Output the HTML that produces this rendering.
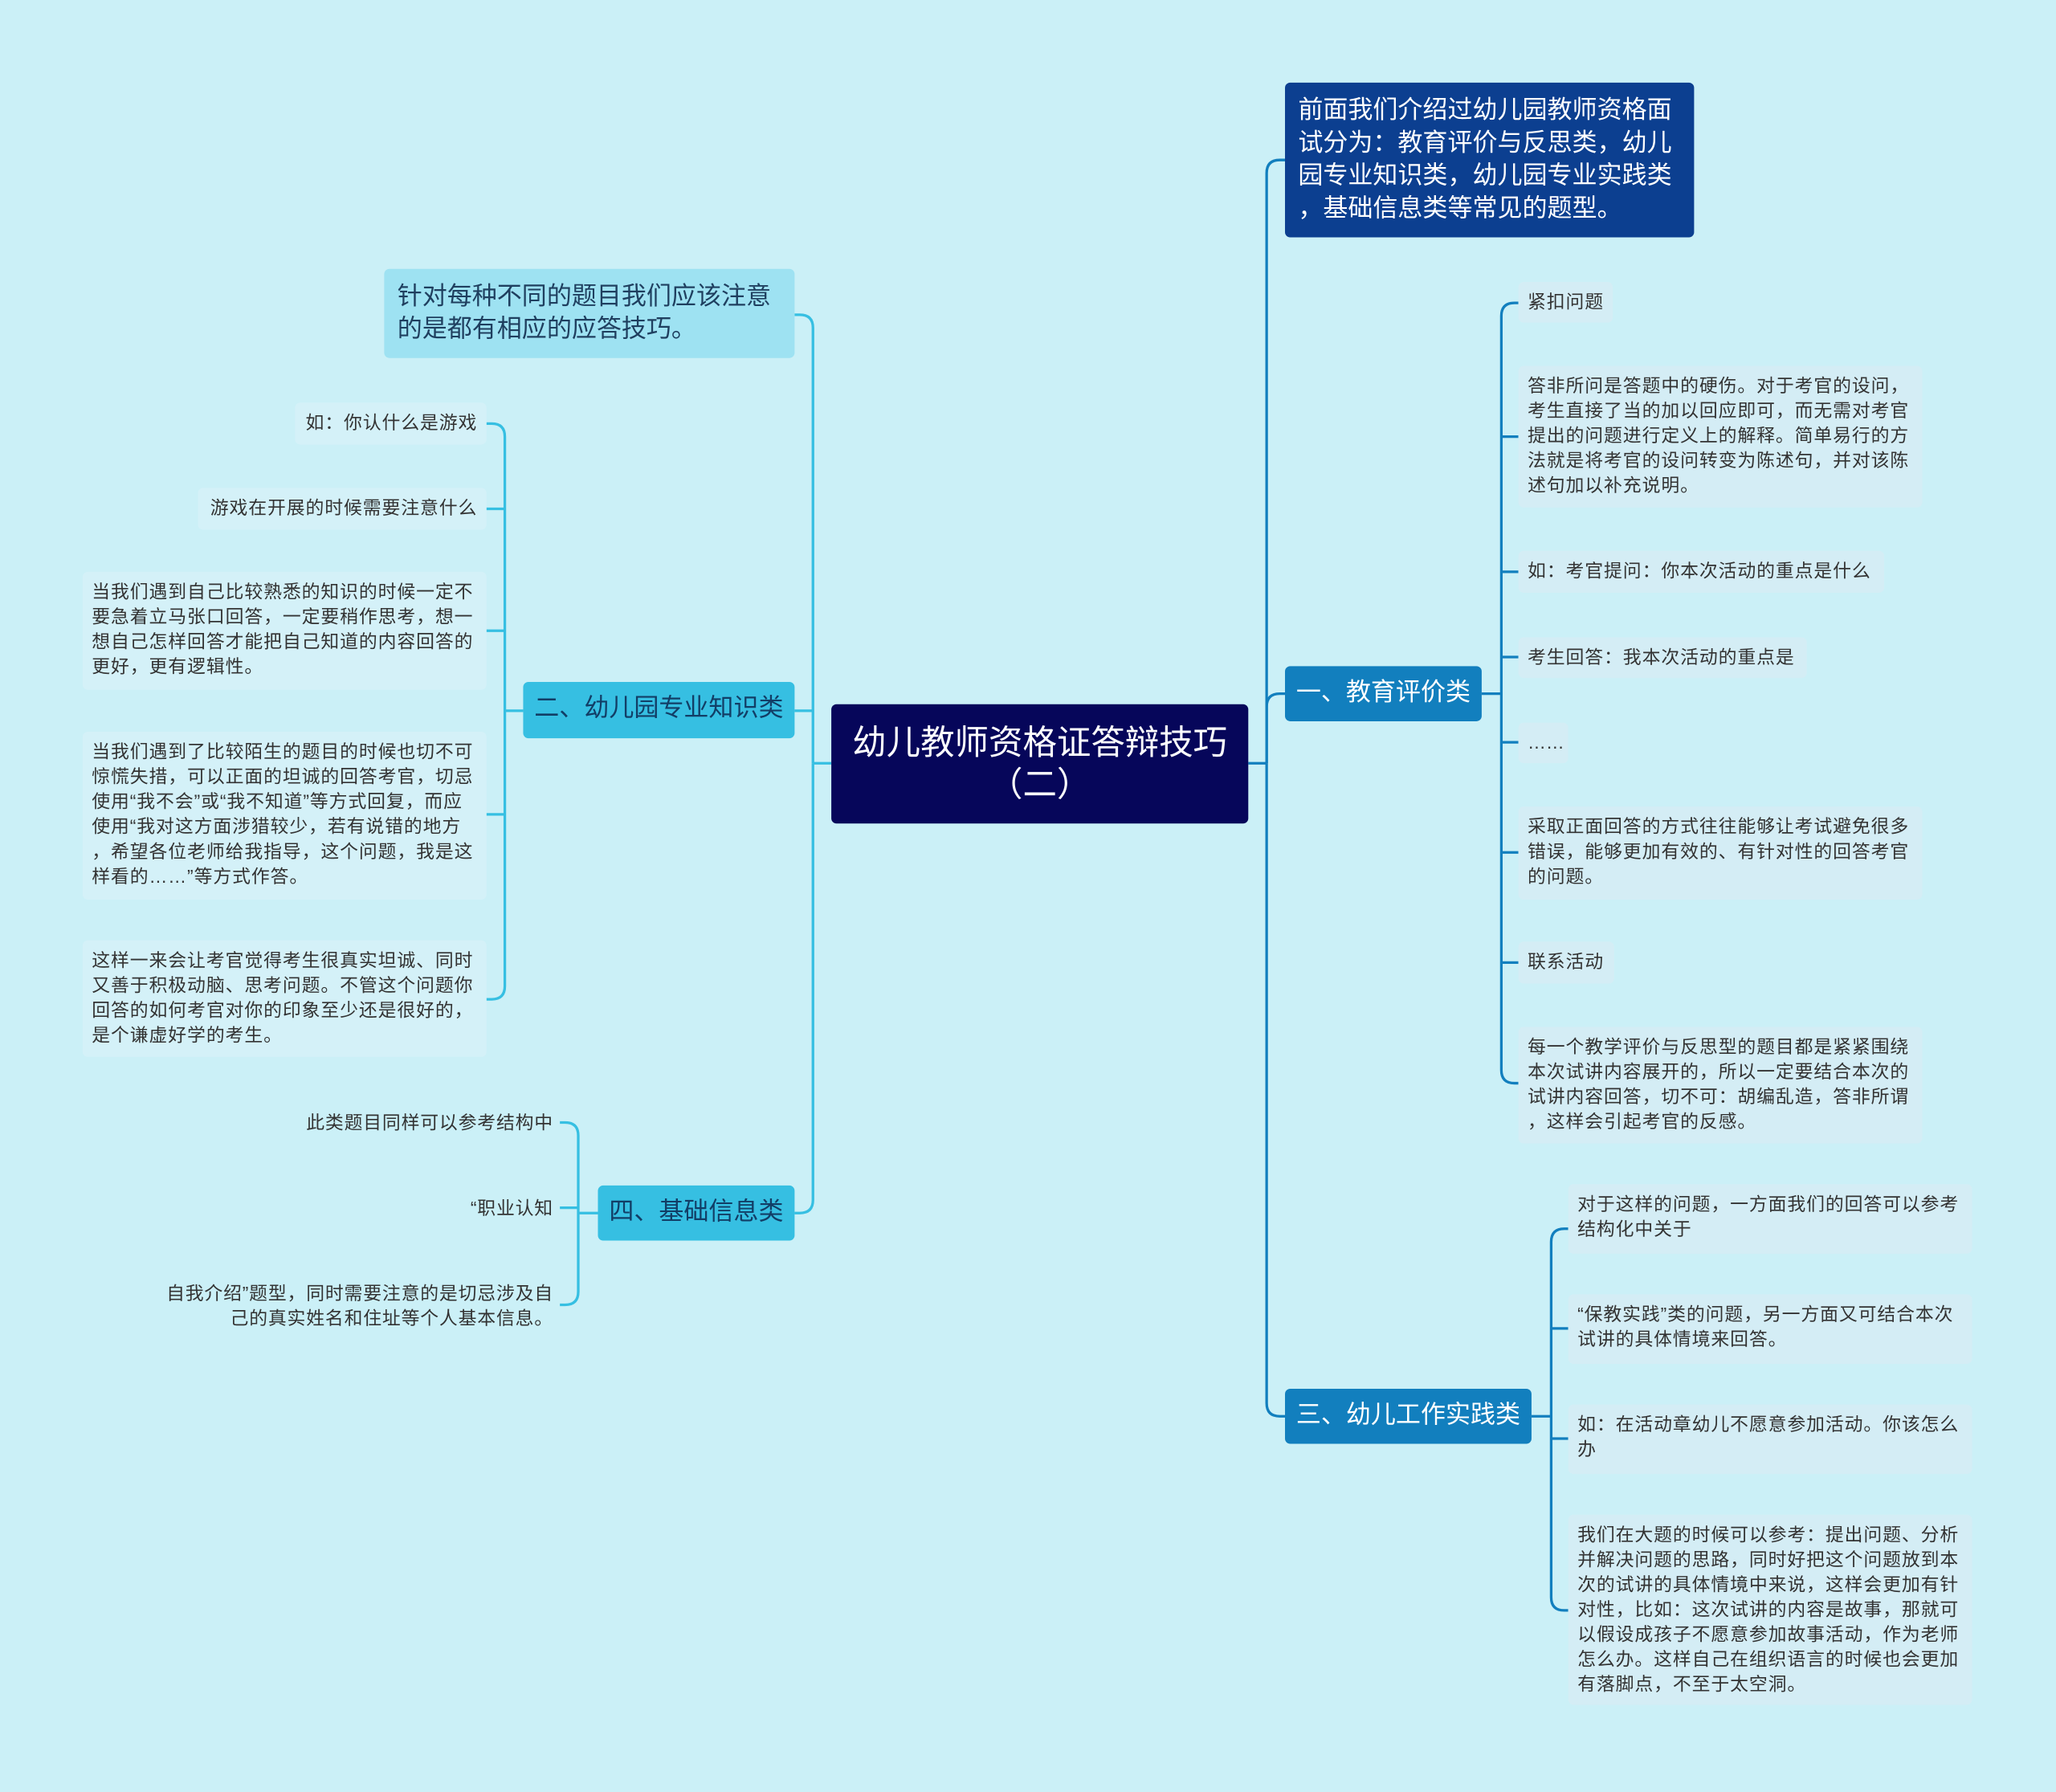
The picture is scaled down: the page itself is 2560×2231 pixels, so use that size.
<!DOCTYPE html>
<html><head><meta charset="utf-8"><style>
html,body{margin:0;padding:0;background:#cbf0f7;}
body{width:2560px;height:2231px;overflow:hidden;}
#w{position:absolute;left:0;top:0;width:1568px;height:1366px;transform:scale(1.63265);transform-origin:0 0;font-family:"Liberation Sans","Noto Sans CJK SC",sans-serif;line-break:anywhere;}
.n{position:absolute;box-sizing:border-box;border-radius:4px;}
.leaf{background:#d4edf5;color:#333;font-size:14px;line-height:19px;padding:6px 7px;letter-spacing:0.55px;}
.nw{white-space:nowrap;overflow:hidden;}
.lft{background:#d4f1f8;text-align:right;}
.plain{position:absolute;color:#333;font-size:14px;line-height:19px;text-align:right;letter-spacing:0.5px;line-break:anywhere;}
.b1{background:#127fbe;color:#fff;font-size:19px;line-height:42px;text-align:center;}
.b2{background:#36bfe2;color:#123e66;font-size:19px;line-height:42px;text-align:center;}
svg{position:absolute;left:0;top:0;}
</style></head><body><div id="w">
<svg width="1568" height="1366" fill="none" stroke-width="2">
<g stroke="#127fbe">
<path d="M952 582 H966"/>
<path d="M966 582 V132 Q966 122 976 122 H980"/>
<path d="M966 582 V539 Q966 529 976 529 H980"/>
<path d="M966 582 V1070 Q966 1080 976 1080 H980"/>
<path d="M1130 529 H1145"/>
<path d="M1145 241 Q1145 231 1155 231 H1158 M1145 241 V816 Q1145 826 1155 826 H1158"/>
<path d="M1145 333 H1158 M1145 436 H1158 M1145 501 H1158 M1145 566 H1158 M1145 650 H1158 M1145 734 H1158"/>
<path d="M1168 1080 H1183"/>
<path d="M1183 947 Q1183 937 1193 937 H1196 M1183 947 V1218 Q1183 1228 1193 1228 H1196"/>
<path d="M1183 1013 H1196 M1183 1097 H1196"/>
</g>
<g stroke="#36bfe2">
<path d="M634 582 H620"/>
<path d="M620 582 V250 Q620 240 610 240 H606"/>
<path d="M620 582 V915 Q620 925 610 925 H606"/>
<path d="M620 542 H606"/>
<path d="M399 542 H385"/>
<path d="M385 333 Q385 323 375 323 H371 M385 333 V752 Q385 762 375 762 H371"/>
<path d="M385 388 H371 M385 481 H371 M385 621 H371"/>
<path d="M456 925 H441"/>
<path d="M441 866 Q441 856 431 856 H427 M441 866 V985 Q441 995 431 995 H427"/>
<path d="M441 921 H427"/>
</g>
</svg>
<div class="n" style="left:634px;top:537px;width:318px;height:91px;background:#06065a;color:#fff;font-size:26px;line-height:32px;text-align:center;padding-top:13px;">幼儿教师资格证答辩技巧<br>（二）</div>
<div class="n" style="left:980px;top:63px;width:312px;height:118px;background:#0c3f90;color:#fff;font-size:19px;line-height:25px;padding:9px 8px 9px 10px;">前面我们介绍过幼儿园教师资格面试分为：教育评价与反思类，幼儿园专业知识类，幼儿园专业实践类，基础信息类等常见的题型。</div>
<div class="n b1" style="left:980px;top:508px;width:150px;height:42px;">一、教育评价类</div>
<div class="n b1" style="left:980px;top:1059px;width:188px;height:42px;">三、幼儿工作实践类</div>
<div class="n b2" style="left:399px;top:520px;width:207px;height:43px;">二、幼儿园专业知识类</div>
<div class="n b2" style="left:456px;top:904px;width:150px;height:42px;">四、基础信息类</div>
<div class="n" style="left:293px;top:205px;width:313px;height:68px;background:#9ee2f2;color:#1f3f5f;font-size:19px;line-height:25px;padding:9px 10px;">针对每种不同的题目我们应该注意的是都有相应的应答技巧。</div>

<div class="n leaf nw" style="left:1158px;top:215px;width:72px;height:31px;">紧扣问题</div>
<div class="n leaf" style="left:1158px;top:279px;width:308px;height:108px;">答非所问是答题中的硬伤。对于考官的设问，考生直接了当的加以回应即可，而无需对考官提出的问题进行定义上的解释。简单易行的方法就是将考官的设问转变为陈述句，并对该陈述句加以补充说明。</div>
<div class="n leaf nw" style="left:1158px;top:420px;width:279px;height:32px;">如：考官提问：你本次活动的重点是什么</div>
<div class="n leaf nw" style="left:1158px;top:486px;width:220px;height:31px;">考生回答：我本次活动的重点是</div>
<div class="n leaf nw" style="left:1158px;top:551px;width:38px;height:31px;letter-spacing:0;">……</div>
<div class="n leaf" style="left:1158px;top:615px;width:308px;height:71px;">采取正面回答的方式往往能够让考试避免很多错误，能够更加有效的、有针对性的回答考官的问题。</div>
<div class="n leaf nw" style="left:1158px;top:718px;width:73px;height:32px;">联系活动</div>
<div class="n leaf" style="left:1158px;top:783px;width:308px;height:89px;">每一个教学评价与反思型的题目都是紧紧围绕本次试讲内容展开的，所以一定要结合本次的试讲内容回答，切不可：胡编乱造，答非所谓，这样会引起考官的反感。</div>
<div class="n leaf" style="left:1196px;top:903px;width:308px;height:53px;">对于这样的问题，一方面我们的回答可以参考结构化中关于</div>
<div class="n leaf" style="left:1196px;top:987px;width:308px;height:53px;">“保教实践”类的问题，另一方面又可结合本次试讲的具体情境来回答。</div>
<div class="n leaf" style="left:1196px;top:1071px;width:308px;height:53px;">如：在活动章幼儿不愿意参加活动。你该怎么办</div>
<div class="n leaf" style="left:1196px;top:1155px;width:308px;height:145px;">我们在大题的时候可以参考：提出问题、分析并解决问题的思路，同时好把这个问题放到本次的试讲的具体情境中来说，这样会更加有针对性，比如：这次试讲的内容是故事，那就可以假设成孩子不愿意参加故事活动，作为老师怎么办。这样自己在组织语言的时候也会更加有落脚点，不至于太空洞。</div>

<div class="n leaf lft nw" style="left:225px;top:307px;width:146px;height:32px;">如：你认什么是游戏</div>
<div class="n leaf lft nw" style="left:151px;top:372px;width:220px;height:32px;">游戏在开展的时候需要注意什么</div>
<div class="n leaf lft" style="left:63px;top:436px;width:308px;height:90px;text-align:left;">当我们遇到自己比较熟悉的知识的时候一定不要急着立马张口回答，一定要稍作思考，想一想自己怎样回答才能把自己知道的内容回答的更好，更有逻辑性。</div>
<div class="n leaf lft" style="left:63px;top:558px;width:308px;height:128px;text-align:left;">当我们遇到了比较陌生的题目的时候也切不可惊慌失措，可以正面的坦诚的回答考官，切忌使用“我不会”或“我不知道”等方式回复，而应使用“我对这方面涉猎较少，若有说错的地方，希望各位老师给我指导，这个问题，我是这样看的……”等方式作答。</div>
<div class="n leaf lft" style="left:63px;top:717px;width:308px;height:89px;text-align:left;">这样一来会让考官觉得考生很真实坦诚、同时又善于积极动脑、思考问题。不管这个问题你回答的如何考官对你的印象至少还是很好的，是个谦虚好学的考生。</div>
<div class="plain" style="right:1146px;top:847px;width:300px;white-space:nowrap;">此类题目同样可以参考结构中</div>
<div class="plain" style="right:1146px;top:912px;width:300px;">“职业认知</div>
<div class="plain" style="right:1146px;top:977px;width:300px;">自我介绍”题型，同时需要注意的是切忌涉及自己的真实姓名和住址等个人基本信息。</div>
</div></body></html>
